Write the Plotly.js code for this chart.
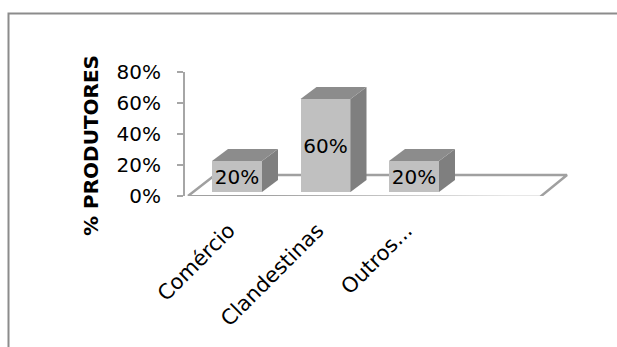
<!DOCTYPE html>
<html>
<head>
<meta charset="utf-8">
<script src="https://cdn.plot.ly/plotly-3.0.1.min.js"></script>
<style>html,body{margin:0;padding:0;background:#fff;}#chart{width:617px;height:347px;}</style>
</head>
<body>
<div id="chart"></div>
<script>
// ---- data ----
const categories = ["Comércio", "Clandestinas", "Outros..."];
const values = [0.20, 0.60, 0.20];
const valueLabels = ["20%", "60%", "20%"];
const tickValues = [0, 0.2, 0.4, 0.6, 0.8];
const tickLabels = ["0%", "20%", "40%", "60%", "80%"];
const yTitle = "% PRODUTORES";

// ---- geometry (pixel-based helpers) ----
const W = 617, H = 347;
const mL = 185, mR = 47, mT = 72, mB = 151;
const plotW = W - mL - mR, plotH = H - mT - mB;
const pxPerCat = 88.5;
const x0 = -(237 - mL) / pxPerCat;
const x1 = x0 + plotW / pxPerCat;
const yMax = 0.8;
const pxPerUnit = plotH / yMax;
const barShift = 4 / pxPerUnit;
const barW = 50 / pxPerCat;
const dX = 16 / pxPerCat;
const dY = 12 / pxPerUnit;
const FONT = 'DejaVu Sans, sans-serif';

const xs = categories.map((c, i) => i);

const traces = [];
// floor
const fX = [x0 + 3 / pxPerCat, x0 + 355 / pxPerCat, x0 + 382 / pxPerCat, x0 + 30 / pxPerCat];
const fY = [0, -1 / pxPerUnit, 21 / pxPerUnit, 21 / pxPerUnit];
traces.push({
  type: 'scatter', mode: 'lines', x: [...fX, fX[0]], y: [...fY, fY[0]],
  fill: 'toself', fillcolor: '#ffffff', line: {color: '#a0a0a0', width: 2.5},
  hoverinfo: 'skip', showlegend: false, cliponaxis: false, xaxis: 'x', yaxis: 'y'
});
// front faces
traces.push({
  type: 'bar', x: xs, y: values, base: 0, width: barW,
  marker: {color: '#c0c0c0', line: {width: 0}},
  text: valueLabels, textposition: 'inside', insidetextanchor: 'middle',
  textfont: {family: FONT, size: 20, color: '#000'},
  textangle: 0, constraintext: 'none',
  showlegend: false, xaxis: 'x', yaxis: 'y2'
});
// side and top faces
xs.forEach((x, i) => {
  const v = values[i];
  const xl = x - barW / 2, xr = x + barW / 2;
  traces.push({
    type: 'scatter', mode: 'lines', fill: 'toself', fillcolor: '#7f7f7f',
    x: [xr, xr, xr + dX, xr + dX, xr], y: [0, v, v + dY, dY, 0],
    line: {width: 0, color: '#7f7f7f'}, hoverinfo: 'skip', showlegend: false,
    cliponaxis: false, xaxis: 'x', yaxis: 'y2'
  });
  traces.push({
    type: 'scatter', mode: 'lines', fill: 'toself', fillcolor: '#8c8c8c',
    x: [xl, xr, xr + dX, xl + dX, xl], y: [v, v, v + dY, v + dY, v],
    line: {width: 0, color: '#8c8c8c'}, hoverinfo: 'skip', showlegend: false,
    cliponaxis: false, xaxis: 'x', yaxis: 'y2'
  });
});

const layout = {
  width: W, height: H,
  margin: {l: mL, r: mR, t: mT, b: mB, pad: 0},
  paper_bgcolor: '#ffffff', plot_bgcolor: 'rgba(0,0,0,0)',
  font: {family: FONT, color: '#000'},
  showlegend: false,
  xaxis: {
    range: [x0, x1], tickmode: 'array', tickvals: xs, ticktext: categories,
    tickangle: -45, showgrid: false, zeroline: false, showline: false, ticks: '',
    ticklabelstandoff: 17, ticklabelshift: -8,
    tickfont: {family: FONT, size: 21, color: '#000'},
    fixedrange: true
  },
  yaxis: {
    range: [0, yMax], tickmode: 'array', tickvals: tickValues, ticktext: tickLabels,
    showgrid: false, zeroline: false, showline: true, linecolor: '#a6a6a6', linewidth: 2,
    ticks: 'outside', ticklen: 6, tickcolor: '#a6a6a6', tickwidth: 2,
    ticklabelstandoff: 12,
    tickfont: {family: FONT, size: 20, color: '#000'},
    fixedrange: true
  },
  yaxis2: {
    overlaying: 'y', range: [-barShift, yMax - barShift], visible: false, fixedrange: true
  },
  bargap: 0,
  annotations: [{
    text: yTitle, xref: 'paper', yref: 'paper',
    x: (90.5 - mL) / plotW, y: (H - mB - 145.5) / plotH, xanchor: 'center', yanchor: 'middle',
    textangle: -90, showarrow: false,
    font: {family: FONT, size: 20, color: '#000', weight: 'bold'}
  }],
  shapes: [{
    type: 'rect', xref: 'paper', yref: 'paper',
    x0: (8.5 - mL) / plotW, x1: (W + 20 - mL) / plotW,
    y0: (H - mB - (H + 20)) / plotH, y1: (H - mB - 13.5) / plotH,
    line: {color: '#8c8c8c', width: 2}, fillcolor: 'rgba(0,0,0,0)', layer: 'below'
  }]
};

Plotly.newPlot('chart', traces, layout, {displayModeBar: false, staticPlot: true});
</script>
</body>
</html>
